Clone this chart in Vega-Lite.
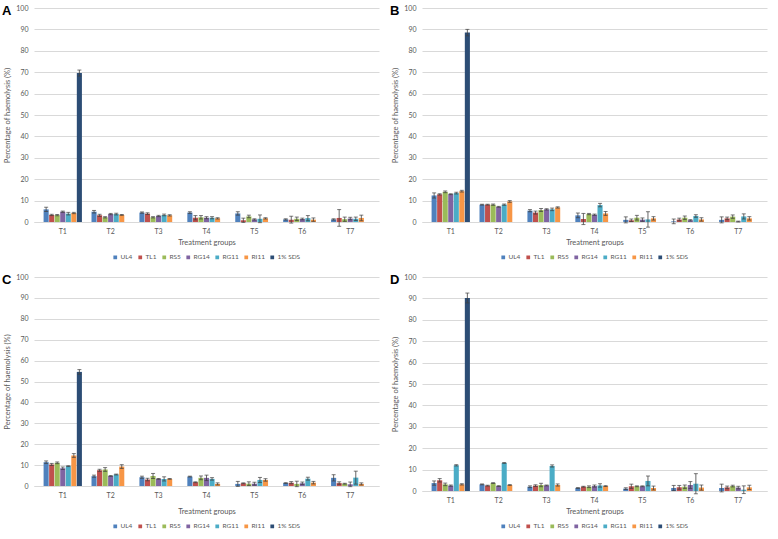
{
"$schema":"https://vega.github.io/schema/vega-lite/v6.json",
"background":"white",
"padding":{"left":2,"top":4,"right":8,"bottom":2},
"datasets":{"d":[
{"panel":"A","group":"T1","sample":"UL4","value":5.9,"err":1.0},
{"panel":"A","group":"T1","sample":"TL1","value":3.3,"err":0.3},
{"panel":"A","group":"T1","sample":"RS5","value":3.2,"err":0.3},
{"panel":"A","group":"T1","sample":"RG14","value":4.8,"err":0.3},
{"panel":"A","group":"T1","sample":"RG11","value":3.9,"err":0.6},
{"panel":"A","group":"T1","sample":"RI11","value":4.2,"err":0.3},
{"panel":"A","group":"T1","sample":"1% SDS","value":69.6,"err":1.4},
{"panel":"A","group":"T2","sample":"UL4","value":4.8,"err":0.6},
{"panel":"A","group":"T2","sample":"TL1","value":3.1,"err":0.5},
{"panel":"A","group":"T2","sample":"RS5","value":2.2,"err":0.3},
{"panel":"A","group":"T2","sample":"RG14","value":3.7,"err":0.3},
{"panel":"A","group":"T2","sample":"RG11","value":3.7,"err":0.4},
{"panel":"A","group":"T2","sample":"RI11","value":3.3,"err":0.2},
{"panel":"A","group":"T3","sample":"UL4","value":4.4,"err":0.3},
{"panel":"A","group":"T3","sample":"TL1","value":3.9,"err":0.4},
{"panel":"A","group":"T3","sample":"RS5","value":2.2,"err":0.3},
{"panel":"A","group":"T3","sample":"RG14","value":2.8,"err":0.3},
{"panel":"A","group":"T3","sample":"RG11","value":3.3,"err":0.4},
{"panel":"A","group":"T3","sample":"RI11","value":3.1,"err":0.3},
{"panel":"A","group":"T4","sample":"UL4","value":4.4,"err":0.4},
{"panel":"A","group":"T4","sample":"TL1","value":2.0,"err":1.0},
{"panel":"A","group":"T4","sample":"RS5","value":2.2,"err":0.8},
{"panel":"A","group":"T4","sample":"RG14","value":2.0,"err":0.5},
{"panel":"A","group":"T4","sample":"RG11","value":2.0,"err":0.5},
{"panel":"A","group":"T4","sample":"RI11","value":1.7,"err":0.3},
{"panel":"A","group":"T5","sample":"UL4","value":4.0,"err":0.8},
{"panel":"A","group":"T5","sample":"TL1","value":0.8,"err":1.0},
{"panel":"A","group":"T5","sample":"RS5","value":2.6,"err":0.6},
{"panel":"A","group":"T5","sample":"RG14","value":1.2,"err":0.3},
{"panel":"A","group":"T5","sample":"RG11","value":1.5,"err":1.8},
{"panel":"A","group":"T5","sample":"RI11","value":1.7,"err":0.3},
{"panel":"A","group":"T6","sample":"UL4","value":1.2,"err":0.3},
{"panel":"A","group":"T6","sample":"TL1","value":1.1,"err":1.6},
{"panel":"A","group":"T6","sample":"RS5","value":1.5,"err":0.8},
{"panel":"A","group":"T6","sample":"RG14","value":1.4,"err":0.4},
{"panel":"A","group":"T6","sample":"RG11","value":1.8,"err":1.2},
{"panel":"A","group":"T6","sample":"RI11","value":1.1,"err":0.8},
{"panel":"A","group":"T7","sample":"UL4","value":1.2,"err":0.3},
{"panel":"A","group":"T7","sample":"TL1","value":1.9,"err":3.9},
{"panel":"A","group":"T7","sample":"RS5","value":1.3,"err":1.0},
{"panel":"A","group":"T7","sample":"RG14","value":1.6,"err":0.6},
{"panel":"A","group":"T7","sample":"RG11","value":1.5,"err":0.8},
{"panel":"A","group":"T7","sample":"RI11","value":1.9,"err":1.3},
{"panel":"B","group":"T1","sample":"UL4","value":12.4,"err":1.2},
{"panel":"B","group":"T1","sample":"TL1","value":12.9,"err":0.3},
{"panel":"B","group":"T1","sample":"RS5","value":14.1,"err":0.4},
{"panel":"B","group":"T1","sample":"RG14","value":13.0,"err":0.2},
{"panel":"B","group":"T1","sample":"RG11","value":13.5,"err":0.4},
{"panel":"B","group":"T1","sample":"RI11","value":14.4,"err":0.4},
{"panel":"B","group":"T1","sample":"1% SDS","value":88.5,"err":1.5},
{"panel":"B","group":"T2","sample":"UL4","value":8.1,"err":0.2},
{"panel":"B","group":"T2","sample":"TL1","value":8.1,"err":0.2},
{"panel":"B","group":"T2","sample":"RS5","value":8.1,"err":0.3},
{"panel":"B","group":"T2","sample":"RG14","value":7.1,"err":0.2},
{"panel":"B","group":"T2","sample":"RG11","value":8.1,"err":0.3},
{"panel":"B","group":"T2","sample":"RI11","value":9.6,"err":0.4},
{"panel":"B","group":"T3","sample":"UL4","value":5.3,"err":0.5},
{"panel":"B","group":"T3","sample":"TL1","value":4.4,"err":0.7},
{"panel":"B","group":"T3","sample":"RS5","value":5.6,"err":0.7},
{"panel":"B","group":"T3","sample":"RG14","value":5.9,"err":0.3},
{"panel":"B","group":"T3","sample":"RG11","value":5.9,"err":0.6},
{"panel":"B","group":"T3","sample":"RI11","value":6.8,"err":0.3},
{"panel":"B","group":"T4","sample":"UL4","value":3.1,"err":1.1},
{"panel":"B","group":"T4","sample":"TL1","value":1.4,"err":2.6},
{"panel":"B","group":"T4","sample":"RS5","value":3.7,"err":0.3},
{"panel":"B","group":"T4","sample":"RG14","value":3.4,"err":0.3},
{"panel":"B","group":"T4","sample":"RG11","value":7.9,"err":0.8},
{"panel":"B","group":"T4","sample":"RI11","value":4.0,"err":0.9},
{"panel":"B","group":"T5","sample":"UL4","value":1.0,"err":1.4},
{"panel":"B","group":"T5","sample":"TL1","value":0.8,"err":0.6},
{"panel":"B","group":"T5","sample":"RS5","value":2.0,"err":1.1},
{"panel":"B","group":"T5","sample":"RG14","value":1.1,"err":0.8},
{"panel":"B","group":"T5","sample":"RG11","value":1.2,"err":3.6},
{"panel":"B","group":"T5","sample":"RI11","value":1.7,"err":0.8},
{"panel":"B","group":"T6","sample":"UL4","value":0.3,"err":1.1},
{"panel":"B","group":"T6","sample":"TL1","value":1.2,"err":0.6},
{"panel":"B","group":"T6","sample":"RS5","value":2.0,"err":0.8},
{"panel":"B","group":"T6","sample":"RG14","value":0.8,"err":0.3},
{"panel":"B","group":"T6","sample":"RG11","value":2.8,"err":0.6},
{"panel":"B","group":"T6","sample":"RI11","value":1.2,"err":0.8},
{"panel":"B","group":"T7","sample":"UL4","value":1.0,"err":1.4},
{"panel":"B","group":"T7","sample":"TL1","value":1.7,"err":0.6},
{"panel":"B","group":"T7","sample":"RS5","value":2.5,"err":0.8},
{"panel":"B","group":"T7","sample":"RG14","value":0.2,"err":0.2},
{"panel":"B","group":"T7","sample":"RG11","value":2.6,"err":1.2},
{"panel":"B","group":"T7","sample":"RI11","value":1.7,"err":0.8},
{"panel":"C","group":"T1","sample":"UL4","value":11.4,"err":0.6},
{"panel":"C","group":"T1","sample":"TL1","value":10.3,"err":0.5},
{"panel":"C","group":"T1","sample":"RS5","value":11.1,"err":0.4},
{"panel":"C","group":"T1","sample":"RG14","value":8.5,"err":0.6},
{"panel":"C","group":"T1","sample":"RG11","value":9.5,"err":0.2},
{"panel":"C","group":"T1","sample":"RI11","value":14.6,"err":0.9},
{"panel":"C","group":"T1","sample":"1% SDS","value":54.6,"err":1.1},
{"panel":"C","group":"T2","sample":"UL4","value":4.7,"err":0.5},
{"panel":"C","group":"T2","sample":"TL1","value":7.5,"err":0.5},
{"panel":"C","group":"T2","sample":"RS5","value":7.9,"err":0.9},
{"panel":"C","group":"T2","sample":"RG14","value":4.8,"err":0.2},
{"panel":"C","group":"T2","sample":"RG11","value":5.5,"err":0.2},
{"panel":"C","group":"T2","sample":"RI11","value":9.3,"err":0.9},
{"panel":"C","group":"T3","sample":"UL4","value":4.2,"err":0.5},
{"panel":"C","group":"T3","sample":"TL1","value":3.1,"err":0.6},
{"panel":"C","group":"T3","sample":"RS5","value":4.8,"err":1.2},
{"panel":"C","group":"T3","sample":"RG14","value":3.4,"err":0.2},
{"panel":"C","group":"T3","sample":"RG11","value":3.4,"err":1.0},
{"panel":"C","group":"T3","sample":"RI11","value":3.4,"err":0.2},
{"panel":"C","group":"T4","sample":"UL4","value":4.5,"err":0.2},
{"panel":"C","group":"T4","sample":"TL1","value":1.8,"err":0.2},
{"panel":"C","group":"T4","sample":"RS5","value":3.9,"err":0.9},
{"panel":"C","group":"T4","sample":"RG14","value":3.9,"err":1.3},
{"panel":"C","group":"T4","sample":"RG11","value":3.4,"err":0.6},
{"panel":"C","group":"T4","sample":"RI11","value":1.0,"err":0.5},
{"panel":"C","group":"T5","sample":"UL4","value":1.0,"err":1.2},
{"panel":"C","group":"T5","sample":"TL1","value":1.3,"err":0.2},
{"panel":"C","group":"T5","sample":"RS5","value":1.1,"err":0.9},
{"panel":"C","group":"T5","sample":"RG14","value":1.1,"err":0.7},
{"panel":"C","group":"T5","sample":"RG11","value":2.9,"err":1.2},
{"panel":"C","group":"T5","sample":"RI11","value":2.9,"err":0.6},
{"panel":"C","group":"T6","sample":"UL4","value":1.4,"err":0.2},
{"panel":"C","group":"T6","sample":"TL1","value":1.6,"err":0.5},
{"panel":"C","group":"T6","sample":"RS5","value":1.0,"err":1.3},
{"panel":"C","group":"T6","sample":"RG14","value":1.3,"err":0.6},
{"panel":"C","group":"T6","sample":"RG11","value":3.5,"err":0.7},
{"panel":"C","group":"T6","sample":"RI11","value":1.6,"err":0.6},
{"panel":"C","group":"T7","sample":"UL4","value":3.9,"err":1.5},
{"panel":"C","group":"T7","sample":"TL1","value":1.4,"err":0.6},
{"panel":"C","group":"T7","sample":"RS5","value":1.1,"err":0.2},
{"panel":"C","group":"T7","sample":"RG14","value":0.8,"err":1.1},
{"panel":"C","group":"T7","sample":"RG11","value":4.0,"err":3.1},
{"panel":"C","group":"T7","sample":"RI11","value":1.0,"err":0.5},
{"panel":"D","group":"T1","sample":"UL4","value":3.7,"err":1.0},
{"panel":"D","group":"T1","sample":"TL1","value":5.0,"err":0.8},
{"panel":"D","group":"T1","sample":"RS5","value":3.1,"err":0.6},
{"panel":"D","group":"T1","sample":"RG14","value":2.5,"err":0.3},
{"panel":"D","group":"T1","sample":"RG11","value":12.0,"err":0.3},
{"panel":"D","group":"T1","sample":"RI11","value":3.1,"err":0.3},
{"panel":"D","group":"T1","sample":"1% SDS","value":90.2,"err":2.3},
{"panel":"D","group":"T2","sample":"UL4","value":3.1,"err":0.2},
{"panel":"D","group":"T2","sample":"TL1","value":2.5,"err":0.2},
{"panel":"D","group":"T2","sample":"RS5","value":3.7,"err":0.2},
{"panel":"D","group":"T2","sample":"RG14","value":2.3,"err":0.2},
{"panel":"D","group":"T2","sample":"RG11","value":13.1,"err":0.2},
{"panel":"D","group":"T2","sample":"RI11","value":2.8,"err":0.2},
{"panel":"D","group":"T3","sample":"UL4","value":2.0,"err":0.4},
{"panel":"D","group":"T3","sample":"TL1","value":2.5,"err":0.4},
{"panel":"D","group":"T3","sample":"RS5","value":2.8,"err":0.8},
{"panel":"D","group":"T3","sample":"RG14","value":2.6,"err":0.2},
{"panel":"D","group":"T3","sample":"RG11","value":11.7,"err":0.5},
{"panel":"D","group":"T3","sample":"RI11","value":2.8,"err":0.5},
{"panel":"D","group":"T4","sample":"UL4","value":1.4,"err":0.2},
{"panel":"D","group":"T4","sample":"TL1","value":2.0,"err":0.2},
{"panel":"D","group":"T4","sample":"RS5","value":2.0,"err":0.4},
{"panel":"D","group":"T4","sample":"RG14","value":2.3,"err":0.5},
{"panel":"D","group":"T4","sample":"RG11","value":2.6,"err":0.8},
{"panel":"D","group":"T4","sample":"RI11","value":2.3,"err":0.2},
{"panel":"D","group":"T5","sample":"UL4","value":1.1,"err":0.4},
{"panel":"D","group":"T5","sample":"TL1","value":2.2,"err":1.0},
{"panel":"D","group":"T5","sample":"RS5","value":2.2,"err":0.2},
{"panel":"D","group":"T5","sample":"RG14","value":2.2,"err":0.2},
{"panel":"D","group":"T5","sample":"RG11","value":4.7,"err":2.3},
{"panel":"D","group":"T5","sample":"RI11","value":1.4,"err":0.9},
{"panel":"D","group":"T6","sample":"UL4","value":1.4,"err":1.2},
{"panel":"D","group":"T6","sample":"TL1","value":1.7,"err":0.9},
{"panel":"D","group":"T6","sample":"RS5","value":2.0,"err":0.8},
{"panel":"D","group":"T6","sample":"RG14","value":2.8,"err":1.6},
{"panel":"D","group":"T6","sample":"RG11","value":3.4,"err":4.7},
{"panel":"D","group":"T6","sample":"RI11","value":1.6,"err":1.2},
{"panel":"D","group":"T7","sample":"UL4","value":1.4,"err":1.8},
{"panel":"D","group":"T7","sample":"TL1","value":1.7,"err":0.6},
{"panel":"D","group":"T7","sample":"RS5","value":2.3,"err":0.4},
{"panel":"D","group":"T7","sample":"RG14","value":1.6,"err":0.6},
{"panel":"D","group":"T7","sample":"RG11","value":0.6,"err":1.8},
{"panel":"D","group":"T7","sample":"RI11","value":1.7,"err":1.0}
]},
"data":{"name":"d"},
"vconcat":[
{"hconcat":[
{"width":345,"height":214,
"title":{"text":"A"},
"transform":[{"filter":"datum.panel == 'A'"}],
"encoding":{
"x":{"field":"group","type":"nominal","axis":{"title":"Treatment groups"}},
"xOffset":{"field":"sample","type":"nominal","scale":{"domain":["UL4","TL1","RS5","RG14","RG11","RI11","1% SDS"],"paddingInner":0.08}},
"y":{"field":"value","type":"quantitative","title":"Percentage of haemolysis (%)","scale":{"domain":[0,100],"nice":false},"axis":{"values":[0,10,20,30,40,50,60,70,80,90,100],"tickCount":11}}},
"layer":[
{"mark":{"type":"bar"},"encoding":{
"color":{"field":"sample","type":"nominal","scale":{"domain":["UL4","TL1","RS5","RG14","RG11","RI11","1% SDS"],"range":["#4F81BD","#C0504D","#9BBB59","#8064A2","#4BACC6","#F79646","#2C4D75"]},"legend":{"title":null}}}},
{"mark":{"type":"errorbar","ticks":{"size":4,"color":"#404040"},"rule":{"color":"#404040","strokeWidth":0.8}},"encoding":{"yError":{"field":"err"}}}
]},
{"width":345,"height":214,
"title":{"text":"B"},
"transform":[{"filter":"datum.panel == 'B'"}],
"encoding":{
"x":{"field":"group","type":"nominal","axis":{"title":"Treatment groups"}},
"xOffset":{"field":"sample","type":"nominal","scale":{"domain":["UL4","TL1","RS5","RG14","RG11","RI11","1% SDS"],"paddingInner":0.08}},
"y":{"field":"value","type":"quantitative","title":"Percentage of haemolysis (%)","scale":{"domain":[0,100],"nice":false},"axis":{"values":[0,10,20,30,40,50,60,70,80,90,100],"tickCount":11}}},
"layer":[
{"mark":{"type":"bar"},"encoding":{
"color":{"field":"sample","type":"nominal","scale":{"domain":["UL4","TL1","RS5","RG14","RG11","RI11","1% SDS"],"range":["#4F81BD","#C0504D","#9BBB59","#8064A2","#4BACC6","#F79646","#2C4D75"]},"legend":{"title":null}}}},
{"mark":{"type":"errorbar","ticks":{"size":4,"color":"#404040"},"rule":{"color":"#404040","strokeWidth":0.8}},"encoding":{"yError":{"field":"err"}}}
]}
],"spacing":11,"resolve":{"legend":{"color":"independent"}}},
{"hconcat":[
{"width":345,"height":209,
"title":{"text":"C"},
"transform":[{"filter":"datum.panel == 'C'"}],
"encoding":{
"x":{"field":"group","type":"nominal","axis":{"title":"Treatment groups","titlePadding":9}},
"xOffset":{"field":"sample","type":"nominal","scale":{"domain":["UL4","TL1","RS5","RG14","RG11","RI11","1% SDS"],"paddingInner":0.08}},
"y":{"field":"value","type":"quantitative","title":"Percentage of haemolysis (%)","scale":{"domain":[0,100],"nice":false},"axis":{"values":[0,10,20,30,40,50,60,70,80,90,100],"tickCount":11}}},
"layer":[
{"mark":{"type":"bar"},"encoding":{
"color":{"field":"sample","type":"nominal","scale":{"domain":["UL4","TL1","RS5","RG14","RG11","RI11","1% SDS"],"range":["#4F81BD","#C0504D","#9BBB59","#8064A2","#4BACC6","#F79646","#2C4D75"]},"legend":{"title":null}}}},
{"mark":{"type":"errorbar","ticks":{"size":4,"color":"#404040"},"rule":{"color":"#404040","strokeWidth":0.8}},"encoding":{"yError":{"field":"err"}}}
]},
{"width":345,"height":214,
"title":{"text":"D"},
"transform":[{"filter":"datum.panel == 'D'"}],
"encoding":{
"x":{"field":"group","type":"nominal","axis":{"title":"Treatment groups"}},
"xOffset":{"field":"sample","type":"nominal","scale":{"domain":["UL4","TL1","RS5","RG14","RG11","RI11","1% SDS"],"paddingInner":0.08}},
"y":{"field":"value","type":"quantitative","title":"Percentage of haemolysis (%)","scale":{"domain":[0,100],"nice":false},"axis":{"values":[0,10,20,30,40,50,60,70,80,90,100],"tickCount":11}}},
"layer":[
{"mark":{"type":"bar"},"encoding":{
"color":{"field":"sample","type":"nominal","scale":{"domain":["UL4","TL1","RS5","RG14","RG11","RI11","1% SDS"],"range":["#4F81BD","#C0504D","#9BBB59","#8064A2","#4BACC6","#F79646","#2C4D75"]},"legend":{"title":null}}}},
{"mark":{"type":"errorbar","ticks":{"size":4,"color":"#404040"},"rule":{"color":"#404040","strokeWidth":0.8}},"encoding":{"yError":{"field":"err"}}}
]}
],"spacing":11,"resolve":{"legend":{"color":"independent"}}}
],
"spacing":12,
"resolve":{"legend":{"color":"independent"}},
"config":{
"font":"Lato",
"view":{"stroke":null},
"scale":{"bandPaddingInner":0.2,"bandPaddingOuter":0.1},
"title":{"anchor":"start","frame":"group","fontSize":13,"fontWeight":"bold","font":"Liberation Sans","color":"#000000","baseline":"top","offset":-14,"dx":-32,"dy":0},
"axis":{"labelFont":"Lato","labelFontSize":7,"labelColor":"#595959","titleFont":"Lato","titleFontSize":7.5,"titleColor":"#595959","titleFontWeight":"normal","gridColor":"#d9d9d9","domainColor":"#d9d9d9","ticks":false,"labelOverlap":false},
"axisY":{"domain":false,"grid":true,"labelPadding":6,"titlePadding":4},
"axisX":{"labelAngle":0,"grid":false,"labelPadding":5,"titlePadding":4},
"legend":{"orient":"bottom","direction":"horizontal","symbolType":"square","symbolSize":14,"symbolStrokeWidth":0,"labelFont":"Lato","labelFontSize":6.5,"labelColor":"#595959","columnPadding":4,"offset":8,"labelOffset":2,"layout":{"bottom":{"anchor":"middle"}}}
}
}
